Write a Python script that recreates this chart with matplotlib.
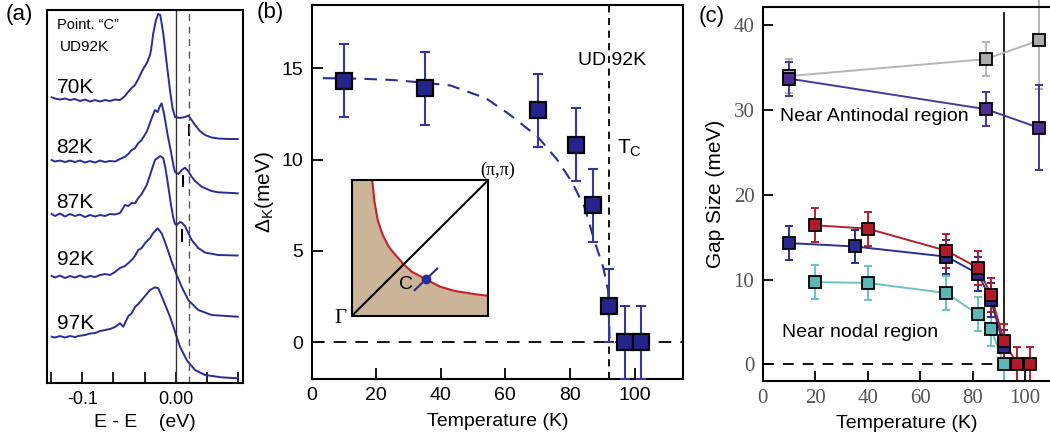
import matplotlib.pyplot as plt
import numpy as np

plt.rcParams['font.family'] = ['Liberation Sans', 'DejaVu Sans']
plt.rcParams['mathtext.fontset'] = 'custom'
plt.rcParams['mathtext.rm'] = 'Liberation Sans'
plt.rcParams['mathtext.it'] = 'Liberation Sans:italic'

# ---------------- (a) EDCs at point C ----------------
edc_labels = ['70K', '82K', '87K', '92K', '97K']
label_y = [296, 236, 181, 124, 60]

e70 = [-0.1328, -0.1292, -0.1239, -0.1185, -0.1132, -0.1078, -0.1025, -0.0971, -0.0918, -0.0864,
       -0.0810, -0.0757, -0.0703, -0.0650, -0.0596, -0.0543, -0.0507, -0.0471, -0.0436, -0.0400,
       -0.0364, -0.0329, -0.0310, -0.0275, -0.0264, -0.0240, -0.0211, -0.0186, -0.0165, -0.0133,
       -0.0096, -0.0061, -0.0034, -0.0007, 0.0046, 0.0100, 0.0135, 0.0171, 0.0207, 0.0260,
       0.0314, 0.0385, 0.0456, 0.0581, 0.0664]
i70 = [285.7, 284.5, 283.5, 284.5, 283, 284, 282, 283.5, 281.5, 283,
       281.5, 283, 282, 283.5, 283, 287, 291.3, 295, 298, 304,
       311.3, 317, 319.7, 328, 333, 349.7, 363, 369, 368, 349.7,
       319.7, 293, 275, 266, 265, 266, 267.5, 263, 258, 252,
       248, 245.5, 244.5, 244, 244]

e82 = [-0.1328, -0.1292, -0.1239, -0.1185, -0.1132, -0.1078, -0.1025, -0.0971, -0.0918, -0.0864,
       -0.0810, -0.0757, -0.0703, -0.0650, -0.0596, -0.0543, -0.0507, -0.0471, -0.0436, -0.0400,
       -0.0364, -0.0310, -0.0257, -0.0222, -0.0193, -0.0168, -0.0150, -0.0122, -0.0086, -0.0050,
       -0.0023, -0.0007, 0.0029, 0.0064, 0.0100, 0.0135, 0.0171, 0.0207, 0.0278, 0.0385,
       0.0456, 0.0664]
i82 = [223, 221.5, 222.5, 221, 222.5, 221, 222.5, 220.5, 222, 220.5,
       222.5, 221, 222, 221.5, 224, 226.3, 229, 233, 234.7, 240,
       243, 251.3, 264.7, 273, 271, 277, 279.7, 268, 248, 231,
       217, 211, 209, 213, 215.3, 212, 206.3, 202, 196.3, 192,
       190.7, 189.7]

e87 = [-0.1328, -0.1292, -0.1239, -0.1185, -0.1132, -0.1078, -0.1025, -0.0971, -0.0918, -0.0864,
       -0.0810, -0.0757, -0.0703, -0.0650, -0.0596, -0.0543, -0.0507, -0.0471, -0.0436, -0.0400,
       -0.0364, -0.0310, -0.0257, -0.0222, -0.0186, -0.0168, -0.0150, -0.0133, -0.0110, -0.0086,
       -0.0050, -0.0025, -0.0007, 0.0011, 0.0046, 0.0064, 0.0100, 0.0135, 0.0171, 0.0242,
       0.0314, 0.0456, 0.0664]
i87 = [169, 167, 169.5, 166.5, 169, 167, 168.5, 166, 168, 166.5,
       168, 167, 169, 168.5, 170, 178, 177, 180, 179.7, 185,
       189, 198, 213, 223, 225.5, 227, 226, 225, 215, 201,
       178, 165, 159, 158, 161, 160.5, 157, 150, 143, 135,
       130.5, 128, 127.5]

e92 = [-0.1328, -0.1292, -0.1239, -0.1185, -0.1132, -0.1078, -0.1025, -0.0971, -0.0918, -0.0864,
       -0.0810, -0.0757, -0.0703, -0.0650, -0.0596, -0.0543, -0.0507, -0.0471, -0.0436, -0.0400,
       -0.0364, -0.0329, -0.0275, -0.0240, -0.0193, -0.0150, -0.0096, -0.0043, 0.0011, 0.0064,
       0.0135, 0.0242, 0.0385, 0.0664]
i92 = [107, 105.5, 107.5, 105, 107, 105.5, 107.5, 105.5, 107, 106,
       108, 109, 108, 111, 115, 117, 120, 123, 127, 133,
       135, 139.7, 145, 150, 154.7, 149.7, 136.3, 121.3, 108, 96.3,
       83, 73, 68, 66.3]

e97 = [-0.1328, -0.1292, -0.1239, -0.1185, -0.1132, -0.1078, -0.1043, -0.0971, -0.0918, -0.0864,
       -0.0810, -0.0757, -0.0703, -0.0650, -0.0596, -0.0561, -0.0507, -0.0471, -0.0436, -0.0400,
       -0.0364, -0.0329, -0.0275, -0.0222, -0.0186, -0.0133, -0.0061, -0.0007, 0.0046, 0.0118,
       0.0207, 0.0314, 0.0493, 0.0664]
i97 = [46.3, 45.5, 47, 45.5, 47, 46, 47, 48, 49.5, 50,
       52, 53, 54, 56, 59.7, 56.3, 67, 69.7, 76, 79,
       83, 87, 93, 95.7, 94.7, 83, 66.3, 51.3, 36.3, 23,
       13, 8, 5.7, 4.7]

# gap-edge markers (energy, bottom, top)
mark_e = [0.0142, 0.0082, 0.0064]
mark_lo = [247, 196, 141]
mark_hi = [259, 208, 154]

# ---------------- (b) gap vs temperature ----------------
b_T = [10, 35, 70, 82, 87, 92, 97, 102]
b_gap = [14.3, 13.9, 12.7, 10.8, 7.5, 2.0, 0.0, 0.0]
b_err = [2, 2, 2, 2, 2, 2, 2, 2]
fit_T = [3.5, 15, 25, 35, 43, 54, 61, 70, 76, 80.5, 84.5, 87.5, 90.3, 91.8, 92.3]
fit_gap = [14.45, 14.42, 14.35, 14.2, 14.05, 13.35, 12.5, 11.25, 10.0, 8.8, 7.4, 5.6, 4.1, 2.85, 0.0]
Tc = 92

# inset Fermi surface (fraction of zone quadrant)
fs_x = [0.15, 0.165, 0.19, 0.225, 0.27, 0.31, 0.345, 0.38, 0.44, 0.54, 0.645, 0.75, 0.89, 1.0]
fs_y = [1.0, 0.85, 0.706, 0.6, 0.51, 0.46, 0.42, 0.38, 0.325, 0.272, 0.216, 0.185, 0.162, 0.148]
point_c = (0.542, 0.272)
cut_x = [0.461, 0.625]
cut_y = [0.191, 0.348]

# ---------------- (c) gap size, several k points ----------------
grey_T = [10, 85, 105.3]
grey_gap = [34.0, 36.0, 38.2]
grey_err = [2, 2, 5.7]
purple_T = [10, 85, 105.3]
purple_gap = [33.7, 30.1, 27.9]
purple_err = [2, 2, 5]
blue_T = [10, 35, 70, 82, 87, 92]
blue_gap = [14.3, 13.9, 12.7, 10.7, 7.6, 2.0]
blue_err = [2, 2, 2, 2, 2, 2]
red_T = [20, 40, 70, 82, 87, 92, 97, 102]
red_gap = [16.4, 16.0, 13.4, 11.4, 8.2, 2.7, 0.0, 0.0]
red_err = [2, 2, 2, 2, 2, 2, 2, 2]
cyan_T = [20, 40, 70, 82, 87, 92]
cyan_gap = [9.7, 9.6, 8.4, 5.9, 4.2, 0.0]
cyan_err = [2, 2, 2, 2, 2, 2]
c_xticks = [0, 20, 40, 60, 80, 100]
c_yticks = [0, 10, 20, 30, 40]

navy = '#2c2c96'
fig = plt.figure(figsize=(10.5, 4.43), dpi=100)

# ===== panel (a) =====
axa = fig.add_axes([0.0443, 0.1354, 0.1874, 0.8431])
for e, i in [(e70, i70), (e82, i82), (e87, i87), (e92, i92), (e97, i97)]:
    axa.plot(e, i, color=navy, lw=1.4)
for lab, ly in zip(edc_labels, label_y):
    axa.text(-0.1275, ly, lab, fontsize=15, ha='left', va='center')
axa.vlines(mark_e, mark_lo, mark_hi, color='black', lw=1.5)
axa.axvline(0, color='#333333', lw=1.0)
axa.axvline(0.0142, color='#555555', lw=1.0, ls=(0, (5, 4)))
axa.text(-0.1275, 358, 'Point. \u201cC\u201d', fontsize=10.5, ha='left', va='center')
axa.text(-0.1245, 336, 'UD92K', fontsize=11, ha='left', va='center')
axa.set_xlim(-0.1383, 0.0724)
axa.set_ylim(0, 373.5)
axa.set_xticks([-0.1333, -0.1, -0.0667, -0.0333, 0, 0.0333, 0.0667])
axa.set_xticklabels(['', '-0.1', '', '', '0.00', '', ''], fontsize=13)
axa.set_yticks([])
axa.tick_params(axis='x', direction='in', length=8, width=1.2, pad=6)
axa.set_xlabel('E - E    (eV)', fontsize=14, labelpad=4)
for s in axa.spines.values():
    s.set_linewidth(1.5)
fig.text(0.018, 0.968, '(a)', fontsize=16, ha='center', va='center')

# ===== panel (b) =====
axb = fig.add_axes([0.2967, 0.1445, 0.3538, 0.8442])
axb.plot(fit_T, fit_gap, color=navy, lw=1.5, ls=(0, (6, 4)), zorder=2)
axb.axhline(0, color='black', lw=1.3, ls=(0, (7, 5)), zorder=1)
axb.axvline(Tc, color='black', lw=1.3, ls=(0, (4, 3)), zorder=1)
axb.errorbar(b_T, b_gap, yerr=b_err, fmt='none', ecolor='#3535a5', elinewidth=1.5,
             capsize=3.6, capthick=1.5, zorder=3)
axb.plot(b_T, b_gap, 's', ms=11, mfc='#24248c', mec='black', mew=1.6, zorder=4)
axb.set_xlim(0, 115)
axb.set_ylim(-2, 18.45)
axb.set_xticks([0, 20, 40, 60, 80, 100])
axb.set_yticks([0, 5, 10, 15])
axb.tick_params(direction='in', length=8, width=1.3, labelsize=14, pad=6)
axb.set_xlabel('Temperature (K)', fontsize=14, labelpad=6)
axb.set_ylabel(r'$\Delta_{\mathrm{K}}$(meV)', fontsize=15, labelpad=4)
axb.text(93, 15.4, 'UD 92K', fontsize=14, ha='center', va='center')
axb.text(94.5, 10.6, r'$\mathrm{T_C}$', fontsize=15, ha='left', va='center')
for s in axb.spines.values():
    s.set_linewidth(1.5)
fig.text(0.257, 0.972, '(b)', fontsize=16, ha='center', va='center')

# inset
axi = fig.add_axes([0.335, 0.2867, 0.1301, 0.307])
poly_x = [0] + fs_x + [1, 0]
poly_y = [1] + fs_y + [0, 0]
axi.fill(poly_x, poly_y, color='#cbb497', lw=0)
axi.plot(fs_x, fs_y, color='#c8202a', lw=1.5)
axi.plot([0, 1], [0, 1], color='black', lw=1.5)
axi.plot(cut_x, cut_y, color=navy, lw=1.5)
axi.plot(*point_c, 'o', ms=6, color=navy)
axi.text(0.40, 0.235, 'C', fontsize=14, ha='center', va='center')
axi.text(-0.08, -0.02, '\u0393', fontsize=15, family='Liberation Serif',
         ha='center', va='center', transform=axi.transAxes)
axi.text(1.07, 1.07, '(\u03c0,\u03c0)', fontsize=13, family='Liberation Serif',
         ha='center', va='center', transform=axi.transAxes)
axi.set_xlim(0, 1)
axi.set_ylim(0, 1)
axi.set_xticks([])
axi.set_yticks([])
for s in axi.spines.values():
    s.set_linewidth(1.5)

# ===== panel (c) =====
axc = fig.add_axes([0.7264, 0.14, 0.2736, 0.8442])
series = [
    (grey_T, grey_gap, grey_err, '#b5b5b5', '#ababab'),
    (purple_T, purple_gap, purple_err, '#4c3699', '#4b2e8f'),
    (cyan_T, cyan_gap, cyan_err, '#6cc2c2', '#5eb5b5'),
    (blue_T, blue_gap, blue_err, '#2d2d95', '#2a2a8c'),
    (red_T, red_gap, red_err, '#b3202e', '#b01a2a'),
]
for T, g, err, lc, fc in series:
    axc.errorbar(T, g, yerr=err, fmt='none', ecolor=lc, elinewidth=1.4,
                 capsize=3, capthick=1.4, zorder=2, clip_on=(lc != '#b5b5b5'))
    axc.plot(T, g, '-', color=lc, lw=1.4, zorder=3)
    axc.plot(T, g, 's', ms=8.5, mfc=fc, mec='black', mew=1.3, zorder=4)
axc.plot([0, Tc], [0, 0], color='black', lw=1.3, ls=(0, (6, 5)), zorder=1)
axc.plot([Tc, Tc], [-2, 41.5], color='black', lw=1.2, zorder=1)
axc.text(6.5, 29.2, 'Near Antinodal region', fontsize=14, ha='left', va='center')
axc.text(7.5, 3.7, 'Near nodal region', fontsize=14, ha='left', va='center')
axc.set_xlim(0, 109.5)
axc.set_ylim(-1.97, 42.15)
axc.set_xticks(c_xticks)
axc.set_yticks(c_yticks)
axc.tick_params(direction='in', length=7, width=1.3, pad=6, labelsize=15,
                labelcolor='#555555', labelfontfamily='Liberation Serif')
axc.set_xlabel('Temperature (K)', fontsize=14, labelpad=5)
axc.set_ylabel('Gap Size (meV)', fontsize=15, labelpad=6)
axc.spines['right'].set_visible(False)
for s in axc.spines.values():
    s.set_linewidth(1.5)
fig.text(0.678, 0.962, '(c)', fontsize=16, ha='center', va='center')

fig.savefig('out.png', dpi=100)
